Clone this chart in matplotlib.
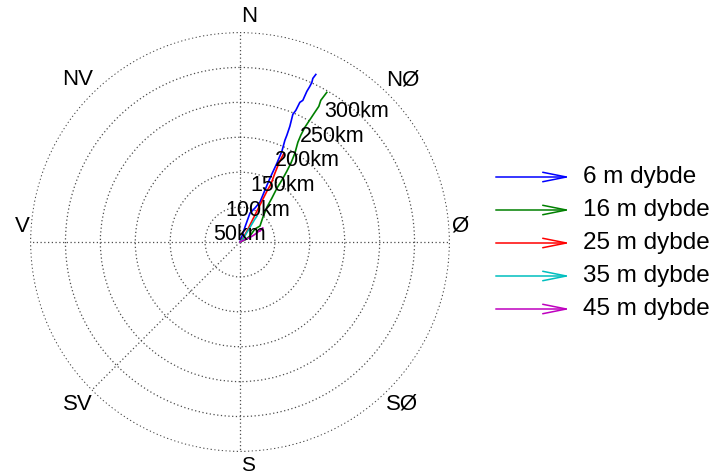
import numpy as np
import matplotlib
matplotlib.use("Agg")
import matplotlib.pyplot as plt
from matplotlib.patches import FancyArrowPatch

plt.rcParams['font.family'] = ['Liberation Sans', 'DejaVu Sans']

# progressive vector tracks, km east / km north of the mooring
BLUE_E = [0, 2.9, 7.1, 14.3, 21.4, 28.6, 35.7, 42.9, 52.9, 60.0, 64.3, 67.1,
          71.4, 75.7, 80.0, 85.7, 90.0, 95.7, 100.0, 102.9, 104.3, 108.6]
BLUE_N = [0, 8.6, 21.4, 41.4, 48.6, 57.1, 74.3, 91.4, 112.9, 130.0, 145.7, 152.9,
          165.7, 182.9, 188.6, 200.0, 202.9, 215.7, 222.9, 228.6, 234.3, 240.0]
GREEN_E = [0, 7.1, 14.3, 21.4, 28.6, 32.9, 38.6, 45.7, 52.9, 60.0, 67.1, 72.9,
           78.6, 82.9, 87.1, 92.9, 101.4, 107.1, 112.9, 115.7, 120.0, 124.3]
GREEN_N = [0, 2.9, 8.6, 18.6, 22.9, 35.7, 50.0, 62.9, 77.1, 88.6, 101.4, 112.9,
           127.1, 142.9, 152.9, 164.3, 177.1, 185.7, 194.3, 202.9, 208.6, 214.3]
RED_E = [0, 4.3, 10.0, 17.1, 24.3, 31.4, 38.6, 44.3, 50.0, 55.7, 62.9]
RED_N = [0, 5.7, 15.7, 30.0, 44.3, 58.6, 72.9, 82.9, 98.6, 112.9, 127.1]
CYAN_E = [0, 4.3, 8.6, 12.9, 17.1, 21.4, 24.3]
CYAN_N = [0, 4.3, 11.4, 18.6, 25.7, 32.9, 37.1]
MAG_E = [0, 5.7, 12.9, 20.0, 25.7, 30.0, 32.9, 28.6]
MAG_N = [0, 2.9, 5.7, 10.0, 14.3, 18.6, 20.0, 15.7]

DEPTHS = ['6 m dybde', '16 m dybde', '25 m dybde', '35 m dybde', '45 m dybde']
COLORS = ['#0000ff', '#008000', '#ff0000', '#00bfbf', '#bf00bf']
TRACKS = [(BLUE_E, BLUE_N), (GREEN_E, GREEN_N), (RED_E, RED_N),
          (CYAN_E, CYAN_N), (MAG_E, MAG_N)]

RINGS = [50, 100, 150, 200, 250, 300]
RMAX = 300
DIAG_LABELS = {'NØ': 45, 'SØ': 135, 'SV': 225, 'NV': 315}

fig = plt.figure(figsize=(7.23, 4.75), dpi=100)
ax = fig.add_axes([30 / 723, 23 / 475, 420 / 723, 420 / 475], projection='polar')
ax.set_theta_zero_location('N')
ax.set_theta_direction(-1)
ax.set_rlim(0, RMAX + 0.8)
ax.spines['polar'].set_visible(False)
ax.set_rgrids(RINGS, labels=[''] * len(RINGS))
ax.set_thetagrids([0, 90, 180, 225, 270], labels=[''] * 5)
ax.grid(True, color='0.3', linestyle=(0, (1, 2)), linewidth=0.9)
ax.tick_params(length=0)

for (east, north), col in zip(TRACKS, COLORS):
    e = np.array(east)
    n = np.array(north)
    ax.plot(np.arctan2(e, n), np.hypot(e, n), color=col, lw=1.2)

# distance markers along the NE bearing
for r in RINGS:
    ax.annotate(f'{r}km', xy=(np.deg2rad(45), r), xytext=(1, -7),
                textcoords='offset pixels', ha='right', va='top',
                fontsize=15.5, annotation_clip=False)

# compass labels
ax.annotate('N', xy=(0, RMAX), xytext=(1, 6), textcoords='offset pixels',
            ha='left', va='bottom', fontsize=16, annotation_clip=False)
ax.annotate('S', xy=(np.pi, RMAX), xytext=(1, -5), textcoords='offset pixels',
            ha='left', va='top', fontsize=15, annotation_clip=False)
ax.annotate('Ø', xy=(np.pi / 2, RMAX), xytext=(2, 5), textcoords='offset pixels',
            ha='left', va='bottom', fontsize=16, annotation_clip=False)
ax.annotate('V', xy=(3 * np.pi / 2, RMAX), xytext=(-1, 5), textcoords='offset pixels',
            ha='right', va='bottom', fontsize=16, annotation_clip=False)
for lab, deg in DIAG_LABELS.items():
    ax.text(np.deg2rad(deg), 329, lab, ha='center', va='center', fontsize=16)

# legend with arrows
for i, (lab, col) in enumerate(zip(DEPTHS, COLORS)):
    y = 1 - (177 + 33 * i) / 475
    arr = FancyArrowPatch((493 / 723, y), (573 / 723, y), transform=fig.transFigure,
                          arrowstyle='->,head_length=17,head_width=3.4',
                          mutation_scale=1, color=col, lw=1.1)
    fig.add_artist(arr)
    fig.text(583 / 723, y, lab, ha='left', va='center', fontsize=17.5)

fig.savefig('out.png', dpi=100)
